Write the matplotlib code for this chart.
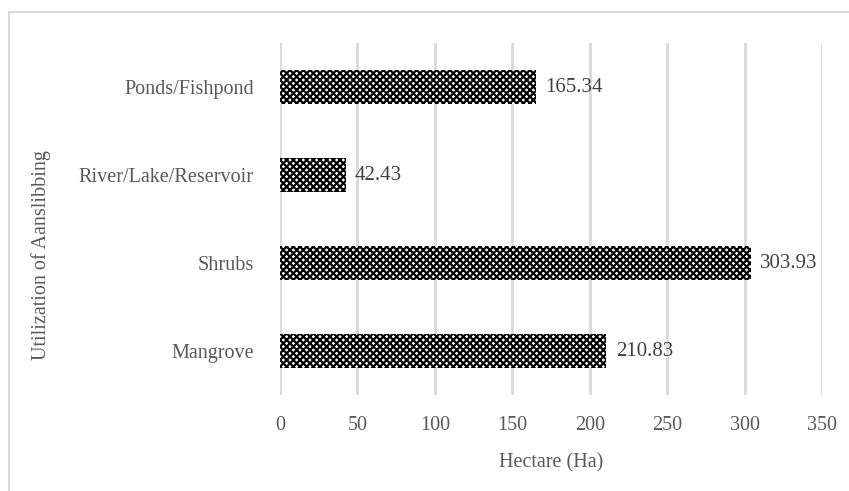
import matplotlib
matplotlib.use("Agg")
import matplotlib.pyplot as plt
from matplotlib.patches import Rectangle

categories = ["Mangrove", "Shrubs", "River/Lake/Reservoir", "Ponds/Fishpond"]
values = [210.83, 303.93, 42.43, 165.34]
value_labels = ["210.83", "303.93", "42.43", "165.34"]
xticks = [0, 50, 100, 150, 200, 250, 300, 350]

plt.rcParams['font.family'] = ['Liberation Serif', 'DejaVu Serif']
plt.rcParams['hatch.linewidth'] = 1.6
plt.rcParams['hatch.color'] = 'black'
text_color = '#595959'

W, H = 849, 491
fig = plt.figure(figsize=(W/100, H/100), dpi=100)
ax = fig.add_axes([280/W, 1-395/H, (822-280)/W, 352/H])

ypos = list(range(len(categories)))
ax.barh(ypos, values, height=0.38, color='white', edgecolor='black',
        hatch='xxxxx', linewidth=0)
for y, v, lab in zip(ypos, values, value_labels):
    ax.text(v + 6, y, lab, va='center', ha='left', fontsize=15, color='#404040')

ax.set_xlim(0, 350)
ax.set_ylim(-0.5, len(categories)-0.5)
ax.set_xticks(xticks)
ax.set_xticklabels([str(t) for t in xticks])
ax.set_yticks(ypos)
ax.set_yticklabels(categories)
ax.tick_params(axis='both', length=0, labelsize=14.5, labelcolor=text_color)
ax.tick_params(axis='x', pad=15)
ax.tick_params(axis='y', pad=19)
ax.grid(axis='x', color='#d9d9d9', linewidth=2)
ax.set_axisbelow(True)
for s in ax.spines.values():
    s.set_visible(False)

ax.set_xlabel("Hectare (Ha)", fontsize=14.5, color=text_color, labelpad=13)
fig.text(41/W, 1-255/H, "Utilization of Aanslibbing", rotation=90, ha='center', va='center',
         fontsize=14.5, color=text_color)

fig.patches.append(Rectangle((9/W, -0.1), 1.2, 1.1-12/H, transform=fig.transFigure,
                             fill=False, edgecolor='#d9d9d9', linewidth=1.5))

fig.savefig("out.png", dpi=100)
